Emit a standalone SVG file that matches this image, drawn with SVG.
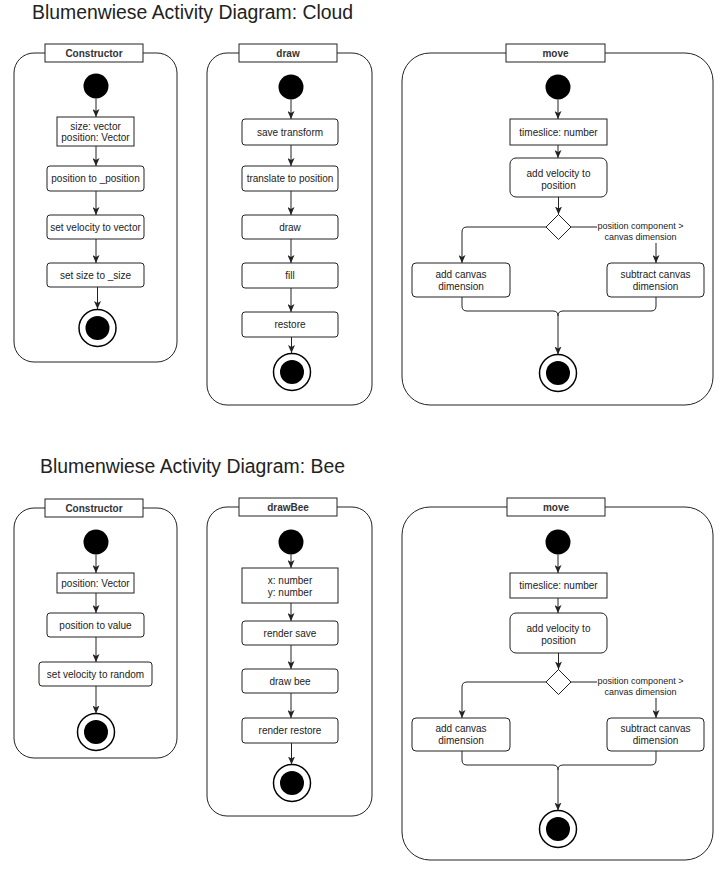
<svg xmlns="http://www.w3.org/2000/svg" width="727" height="869" viewBox="0 0 727 869">
<style>
.title{font-family:"Liberation Sans",Arial,sans-serif;font-size:19.4px;fill:#222}
.frame{fill:none;stroke:#222;stroke-width:1}
.hdr{fill:#fff;stroke:#222;stroke-width:1}
.hdrt{font-family:"Liberation Sans",Arial,sans-serif;font-size:10px;font-weight:bold;fill:#333;text-anchor:middle}
.box{fill:#fff;stroke:#222;stroke-width:1}
.t{font-family:"Liberation Sans",Arial,sans-serif;font-size:10px;fill:#222;text-anchor:middle}
.lbl{font-family:"Liberation Sans",Arial,sans-serif;font-size:9px;fill:#222;text-anchor:middle}
.start{fill:#000}
.endo{fill:#fff;stroke:#000;stroke-width:1.5}
.endi{fill:#000}
.dec{fill:#fff;stroke:#222;stroke-width:1}
.edge{fill:none;stroke:#222;stroke-width:1;marker-end:url(#arr)}
.line{fill:none;stroke:#222;stroke-width:1}
</style>
<defs>
<marker id="arr" markerUnits="userSpaceOnUse" markerWidth="8" markerHeight="7" refX="8" refY="3.5" orient="auto">
<path d="M0,0 L8,3.5 L0,7 L2,3.5 z" fill="#222"/>
</marker>
</defs>
<rect width="727" height="869" fill="#fff"/>

<text class="title" x="32" y="19">Blumenwiese Activity Diagram: Cloud</text>
<text class="title" x="40" y="473">Blumenwiese Activity Diagram: Bee</text>

<!-- ===== Cloud: Constructor ===== -->
<g id="cloud-constructor">
<rect class="frame" x="14" y="53" width="163" height="309" rx="20"/>
<rect class="hdr" x="45" y="44" width="98" height="18"/>
<text class="hdrt" x="94" y="56.5">Constructor</text>
</g>
<g id="cc-start"><circle class="start" cx="96" cy="86" r="12.5"/></g>
<g id="cc-params"><rect class="box" x="57" y="117" width="77" height="29"/>
<text class="t" x="95.5" y="130">size: vector</text><text class="t" x="95.5" y="141">position: Vector</text></g>
<g id="cc-pos"><rect class="box" x="47" y="166" width="97" height="25" rx="3"/><text class="t" x="95.5" y="182">position to _position</text></g>
<g id="cc-vel"><rect class="box" x="47" y="215" width="97" height="24" rx="3"/><text class="t" x="95.5" y="230.5">set velocity to vector</text></g>
<g id="cc-size"><rect class="box" x="47" y="263" width="97" height="24" rx="3"/><text class="t" x="95.5" y="278.5">set size to _size</text></g>
<g id="cc-end"><circle class="endo" cx="97.5" cy="328" r="18.5"/><circle class="endi" cx="97.5" cy="328" r="12"/></g>

<!-- ===== Cloud: draw ===== -->
<g id="cloud-draw">
<rect class="frame" x="207" y="53" width="165" height="352" rx="20"/>
<rect class="hdr" x="239" y="44" width="98" height="18"/>
<text class="hdrt" x="288" y="56.5">draw</text>
</g>
<g id="cd-start"><circle class="start" cx="291" cy="87" r="12.5"/></g>
<g id="cd-save"><rect class="box" x="242" y="119" width="96" height="26" rx="3"/><text class="t" x="290" y="135.5">save transform</text></g>
<g id="cd-translate"><rect class="box" x="242" y="166" width="96" height="25" rx="3"/><text class="t" x="290" y="182">translate to position</text></g>
<g id="cd-draw"><rect class="box" x="242" y="215" width="96" height="24" rx="3"/><text class="t" x="290" y="230.5">draw</text></g>
<g id="cd-fill"><rect class="box" x="242" y="263" width="96" height="25" rx="3"/><text class="t" x="290" y="279">fill</text></g>
<g id="cd-restore"><rect class="box" x="242" y="312" width="96" height="25" rx="3"/><text class="t" x="290" y="328">restore</text></g>
<g id="cd-end"><circle class="endo" cx="292" cy="372" r="18.5"/><circle class="endi" cx="292" cy="372" r="12"/></g>

<!-- ===== Cloud: move ===== -->
<g id="cloud-move">
<rect class="frame" x="402" y="53" width="311" height="352" rx="28"/>
<rect class="hdr" x="506" y="44" width="99" height="18"/>
<text class="hdrt" x="555.5" y="56.5">move</text>
</g>
<g id="cm-start"><circle class="start" cx="558" cy="87" r="12.5"/></g>
<g id="cm-ts"><rect class="box" x="510" y="119" width="97" height="26"/><text class="t" x="558.5" y="135.5">timeslice: number</text></g>
<g id="cm-addvel"><rect class="box" x="510" y="158" width="97" height="39" rx="6"/>
<text class="t" x="558.5" y="176.5">add velocity to</text><text class="t" x="558.5" y="188.5">position</text></g>
<g id="cm-dec"><path class="dec" d="M558.5,214.5 L571,227 L558.5,239.5 L546,227 Z"/></g>
<g id="cm-add"><rect class="box" x="412" y="263" width="98" height="34" rx="4"/>
<text class="t" x="461" y="277.5">add canvas</text><text class="t" x="461" y="289.5">dimension</text></g>
<g id="cm-sub"><rect class="box" x="607" y="263" width="97" height="34" rx="4"/>
<text class="t" x="655.5" y="277.5">subtract canvas</text><text class="t" x="655.5" y="289.5">dimension</text></g>
<g id="cm-end"><circle class="endo" cx="558" cy="373" r="18.5"/><circle class="endi" cx="558" cy="373" r="12"/></g>

<!-- ===== Bee: Constructor ===== -->
<g id="bee-constructor">
<rect class="frame" x="14" y="508" width="163" height="250" rx="20"/>
<rect class="hdr" x="45" y="499" width="98" height="18"/>
<text class="hdrt" x="94" y="511.5">Constructor</text>
</g>
<g id="bc-start"><circle class="start" cx="96" cy="542" r="12.5"/></g>
<g id="bc-params"><rect class="box" x="57" y="573" width="77" height="20"/><text class="t" x="95.5" y="586.5">position: Vector</text></g>
<g id="bc-pos"><rect class="box" x="47" y="613" width="97" height="24" rx="3"/><text class="t" x="95.5" y="628.5">position to value</text></g>
<g id="bc-vel"><rect class="box" x="39" y="662" width="113" height="24" rx="3"/><text class="t" x="95.5" y="677.5">set velocity to random</text></g>
<g id="bc-end"><circle class="endo" cx="96" cy="732" r="18.5"/><circle class="endi" cx="96" cy="732" r="12"/></g>

<!-- ===== Bee: drawBee ===== -->
<g id="bee-drawbee">
<rect class="frame" x="207" y="507" width="165" height="309" rx="20"/>
<rect class="hdr" x="239" y="498" width="98" height="18"/>
<text class="hdrt" x="288" y="510.5">drawBee</text>
</g>
<g id="bd-start"><circle class="start" cx="291" cy="542" r="12.5"/></g>
<g id="bd-params"><rect class="box" x="242" y="568" width="96" height="35"/>
<text class="t" x="290" y="583.5">x: number</text><text class="t" x="290" y="595.5">y: number</text></g>
<g id="bd-save"><rect class="box" x="242" y="621" width="96" height="24" rx="3"/><text class="t" x="290" y="636.5">render save</text></g>
<g id="bd-draw"><rect class="box" x="242" y="669" width="96" height="24" rx="3"/><text class="t" x="290" y="684.5">draw bee</text></g>
<g id="bd-restore"><rect class="box" x="242" y="718" width="96" height="25" rx="3"/><text class="t" x="290" y="734">render restore</text></g>
<g id="bd-end"><circle class="endo" cx="292" cy="783" r="18.5"/><circle class="endi" cx="292" cy="783" r="12"/></g>

<!-- ===== Bee: move ===== -->
<g id="bee-move">
<rect class="frame" x="402" y="507" width="311" height="353" rx="28"/>
<rect class="hdr" x="507" y="498" width="98" height="18"/>
<text class="hdrt" x="556" y="510.5">move</text>
</g>
<g id="bm-start"><circle class="start" cx="558" cy="542" r="12.5"/></g>
<g id="bm-ts"><rect class="box" x="510" y="573" width="97" height="25"/><text class="t" x="558.5" y="589">timeslice: number</text></g>
<g id="bm-addvel"><rect class="box" x="510" y="613" width="97" height="40" rx="6"/>
<text class="t" x="558.5" y="631.5">add velocity to</text><text class="t" x="558.5" y="643.5">position</text></g>
<g id="bm-dec"><path class="dec" d="M558.5,669.5 L571,682 L558.5,694.5 L546,682 Z"/></g>
<g id="bm-add"><rect class="box" x="412" y="718" width="98" height="33" rx="4"/>
<text class="t" x="461" y="732">add canvas</text><text class="t" x="461" y="744">dimension</text></g>
<g id="bm-sub"><rect class="box" x="607" y="718" width="97" height="33" rx="4"/>
<text class="t" x="655.5" y="732">subtract canvas</text><text class="t" x="655.5" y="744">dimension</text></g>
<g id="bm-end"><circle class="endo" cx="558" cy="829" r="18.5"/><circle class="endi" cx="558" cy="829" r="12"/></g>

<!-- ===== Connectors ===== -->
<g id="connectors">
<!-- cloud constructor -->
<path class="edge" d="M96,98.5 V117"/>
<path class="edge" d="M96,146 V166"/>
<path class="edge" d="M96,191 V215"/>
<path class="edge" d="M96,239 V263"/>
<path class="edge" d="M97.5,287 V309"/>
<!-- cloud draw -->
<path class="edge" d="M291,99.5 V119"/>
<path class="edge" d="M291,145 V166"/>
<path class="edge" d="M291,191 V215"/>
<path class="edge" d="M291,239 V263"/>
<path class="edge" d="M291,288 V312"/>
<path class="edge" d="M291.5,337 V353"/>
<!-- cloud move -->
<path class="edge" d="M558,99.5 V119"/>
<path class="edge" d="M558,145 V158"/>
<path class="edge" d="M558.5,197 V214.5"/>
<path class="edge" d="M546,227 H467 Q462,227 462,232 V263"/>
<path class="edge" d="M571,227 H651 Q656,227 656,232 V263"/>
<path class="line" d="M462,297 V306 Q462,311 467,311 H553 Q558,311 558,316"/>
<path class="line" d="M656,297 V306 Q656,311 651,311 H563 Q558,311 558,316"/>
<path class="edge" d="M558,316 V354.5"/>
<rect x="597" y="219" width="87" height="24" fill="#fff"/>
<text class="lbl" x="640.5" y="229">position component &gt;</text>
<text class="lbl" x="640.5" y="239.5">canvas dimension</text>
<!-- bee constructor -->
<path class="edge" d="M96,554.5 V573"/>
<path class="edge" d="M96,593 V613"/>
<path class="edge" d="M96,637 V662"/>
<path class="edge" d="M96,686 V713.5"/>
<!-- bee drawBee -->
<path class="edge" d="M291,554.5 V568"/>
<path class="edge" d="M291,603 V621"/>
<path class="edge" d="M291,645 V669"/>
<path class="edge" d="M291,693 V718"/>
<path class="edge" d="M291.5,743 V764.5"/>
<!-- bee move -->
<path class="edge" d="M558,554.5 V573"/>
<path class="edge" d="M558,598 V613"/>
<path class="edge" d="M558.5,653 V669.5"/>
<path class="edge" d="M546,682 H467 Q462,682 462,687 V718"/>
<path class="edge" d="M571,682 H651 Q656,682 656,687 V718"/>
<path class="line" d="M462,751 V760 Q462,765 467,765 H553 Q558,765 558,770"/>
<path class="line" d="M656,751 V760 Q656,765 651,765 H563 Q558,765 558,770"/>
<path class="edge" d="M558,770 V810.5"/>
<rect x="597" y="674" width="87" height="24" fill="#fff"/>
<text class="lbl" x="640.5" y="684">position component &gt;</text>
<text class="lbl" x="640.5" y="694.5">canvas dimension</text>
</g>
</svg>
